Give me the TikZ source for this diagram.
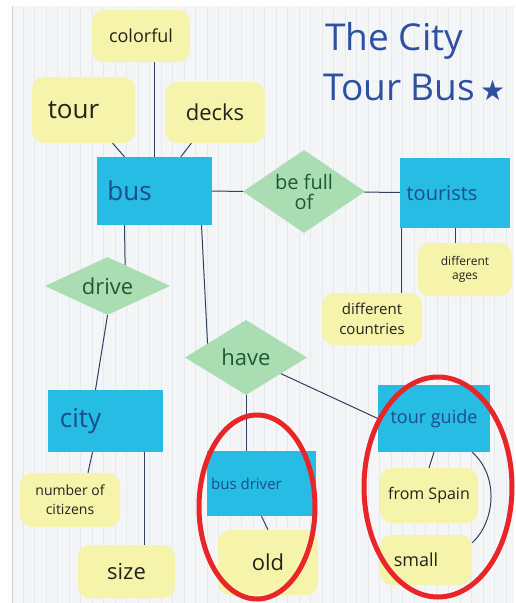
\documentclass[tikz,border=0pt]{standalone}
\usepackage{fontspec}
\setmainfont{Open Sans}
\newfontfamily\symfont{DejaVu Sans}
\usetikzlibrary{shapes.geometric}
\definecolor{entcol}{RGB}{38,188,228}
\definecolor{attcol}{RGB}{246,243,170}
\definecolor{relcol}{RGB}{170,221,178}
\definecolor{enttext}{RGB}{30,75,140}
\definecolor{reltext}{RGB}{30,90,55}
\definecolor{atttext}{RGB}{35,35,30}
\definecolor{linecol}{RGB}{50,62,95}
\definecolor{ringcol}{RGB}{232,38,42}
\definecolor{titlecol}{RGB}{45,80,160}
\definecolor{paper}{RGB}{244,245,247}
\definecolor{gridcol}{RGB}{230,233,238}
\tikzset{
  entity/.style={rectangle, fill=entcol, inner sep=0pt, text=enttext},
  attr/.style={rectangle, rounded corners=12pt, fill=attcol, inner sep=0pt, text=atttext, align=center},
  rel/.style={diamond, fill=relcol, inner xsep=-30pt, inner ysep=-20pt, text=reltext, align=center},
  link/.style={draw=linecol, line width=1pt},
  ring/.style={draw=ringcol, line width=5pt},
  titletext/.style={text=titlecol, inner sep=0pt, font=\fontsize{37}{42}\selectfont}
}
\begin{document}
\begin{tikzpicture}[x=1pt,y=-1pt]
\useasboundingbox (0,0) rectangle (516,603);
\fill[white] (0,0) rectangle (516,603);
\fill[paper] (12,6) rectangle (514,603);
\draw[gridcol, line width=0.4pt, step=11.5] (12,6) grid (514,603);
\draw[gray!40, line width=0.8pt] (12,6) -- (12,603);

% title
\node[titletext, anchor=base west] (title1) at (325,50) {The City};
\node[titletext, anchor=base west] (title2) at (323,100) {Tour Bus\hspace{5pt}{\symfont\fontsize{28}{28}\selectfont ★}};

% attributes
\node[attr, minimum width=98pt, minimum height=52pt, font=\fontsize{18}{20}\selectfont] (colorful) at (141,36) {colorful};
\node[attr, minimum width=103pt, minimum height=66pt, font=\fontsize{26}{28}\selectfont] (tour) at (83.5,110) {tour\hspace*{20pt}};
\node[attr, minimum width=100pt, minimum height=61pt, font=\fontsize{22}{24}\selectfont] (decks) at (215,112.5) {decks};
\node[attr, minimum width=94pt, minimum height=53pt, font=\fontsize{12}{14}\selectfont] (ages) at (465,269.5) {different\\ages};
\node[attr, minimum width=100pt, minimum height=52pt, font=\fontsize{15}{20}\selectfont] (countries) at (372,319) {different\\countries};
\node[attr, minimum width=100pt, minimum height=54pt, font=\fontsize{14}{19}\selectfont] (number) at (70,500) {number of\\citizens};
\node[attr, minimum width=97pt, minimum height=53pt, font=\fontsize{22}{24}\selectfont] (size) at (126.5,571.5) {size};
\node[attr, minimum width=100pt, minimum height=65pt, font=\fontsize{22}{24}\selectfont] (old) at (268,562.5) {old};
\node[attr, minimum width=98pt, minimum height=55pt, font=\fontsize{16}{18}\selectfont] (spain) at (429,495.5) {from Spain};
\node[attr, minimum width=92pt, minimum height=50pt, font=\fontsize{18}{20}\selectfont] (small) at (426,560) {small\hspace*{20pt}};

% entities
\node[entity, minimum width=115pt, minimum height=68pt, font=\fontsize{26}{28}\selectfont] (bus) at (154.5,191) {bus\hspace*{50pt}};
\node[entity, minimum width=110pt, minimum height=70pt, font=\fontsize{20}{22}\selectfont] (tourists) at (455,193) {tourists\hspace*{26pt}};
\node[entity, minimum width=115pt, minimum height=62pt, font=\fontsize{26}{28}\selectfont] (city) at (105.5,421) {city\hspace*{50pt}};
\node[entity, minimum width=112pt, minimum height=67pt, font=\fontsize{18}{20}\selectfont] (tourguide) at (434,418.5) {tour guide};
\node[entity, minimum width=109pt, minimum height=65pt, font=\fontsize{15}{18}\selectfont] (busdriver) at (261.5,483.5) {bus driver\hspace*{30pt}};

% relationships
\node[rel, minimum width=122pt, minimum height=83pt, font=\fontsize{20}{20}\selectfont] (befull) at (304,191.5) {be full\\of};
\node[rel, minimum width=125pt, minimum height=58pt, font=\fontsize{22}{24}\selectfont] (drive) at (107.5,286) {drive};
\node[rel, minimum width=122pt, minimum height=75pt, font=\fontsize{22}{24}\selectfont] (have) at (246,357.5) {have};

% connectors
\draw[link] (bus.north) -- (bus.north |- colorful.south);
\draw[link] (tour) -- (bus);
\draw[link] (decks) -- (bus);
\draw[link] (bus) -- (befull);
\draw[link] (befull) -- (tourists);
\draw[link] ([xshift=-30pt]bus.south) -- (drive.50);
\draw[link] (drive.south) -- ([xshift=-10pt]city.north);
\draw[link] ([xshift=47pt]bus.south) -- (have.160);
\draw[link] (have.south) -- (have.south |- busdriver.north);
\draw[link] (have) -- (tourguide.west);
\draw[link] ([xshift=2pt]tourists.south west) -- ([xshift=2pt]tourists.south west |- countries.north);
\draw[link] (tourists.south) -- (tourists.south |- ages.north);
\draw[link] ([xshift=-13pt]city.south) -- ([xshift=18pt]number.north);
\draw[link] ([xshift=39pt]city.south) -- ([xshift=39pt]city.south |- size.north);
\draw[link] (busdriver.south) -- (old.north);
\draw[link] (tourguide.south) -- (spain.north);
\draw[link] ([xshift=-18pt]tourguide.south east) .. controls +(28,25) and +(22,-20) .. ([yshift=-8pt]small.north east);

% highlight rings
\draw[ring] (257,507) ellipse (58 and 92);
\draw[ring] (438,487) ellipse (74 and 110);
\end{tikzpicture}
\end{document}
